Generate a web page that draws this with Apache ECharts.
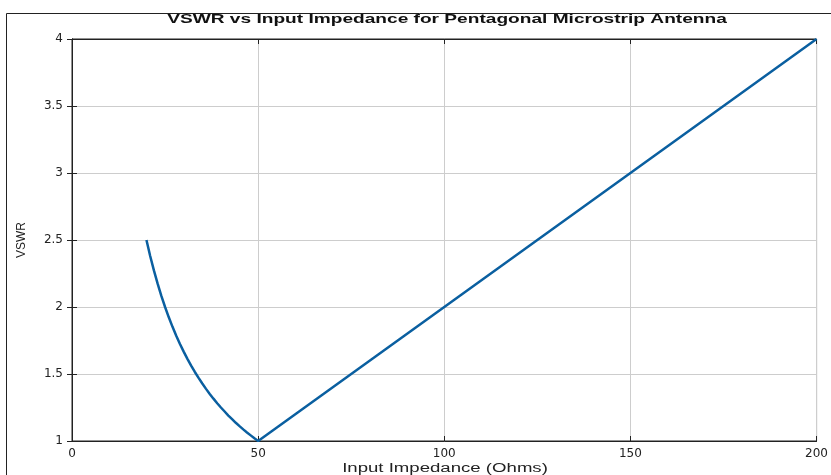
<!DOCTYPE html>
<html><head><meta charset="utf-8">
<script src="https://cdn.jsdelivr.net/npm/echarts@6/dist/echarts.min.js"></script>
<style>html,body{margin:0;padding:0;background:#fff}#c{width:831px;height:475px}</style>
</head><body><div id="c"></div>
<script>
var impedance = [20, 21, 22, 23, 24, 25, 26, 27, 28, 29, 30, 31, 32, 33, 34, 35, 36, 37, 38, 39, 40, 41, 42, 43, 44, 45, 46, 47, 48, 49, 50, 100, 150, 200];
var vswr = [2.5, 2.381, 2.273, 2.174, 2.083, 2.0, 1.923, 1.852, 1.786, 1.724, 1.667, 1.613, 1.563, 1.515, 1.471, 1.429, 1.389, 1.351, 1.316, 1.282, 1.25, 1.220, 1.190, 1.163, 1.136, 1.111, 1.087, 1.064, 1.042, 1.020, 1.0, 2.0, 3.0, 4.0];
var xTicks = [0, 50, 100, 150, 200];
var yTicks = [1, 1.5, 2, 2.5, 3, 3.5, 4];
var titleText = 'VSWR vs Input Impedance for Pentagonal Microstrip Antenna';
var xName = 'Input Impedance (Ohms)';
var yName = 'VSWR';

var pts = impedance.map(function (x, i) { return [x, vswr[i]]; });
var font = 'Liberation Sans, Arial, sans-serif';
var tickFont = 'DejaVu Sans, sans-serif';
var chart = echarts.init(document.getElementById('c'));
chart.setOption({
  animation: false,
  graphic: [
    { type: 'rect', shape: { x: 6.5, y: 13.5, width: 840, height: 480 }, style: { fill: 'none', stroke: '#222', lineWidth: 1 }, silent: true },
    { type: 'text', x: 447, y: 19.5, scaleX: 1.47, style: { text: titleText, font: 'bold 13px Liberation Sans', fill: '#111', textAlign: 'center', textVerticalAlign: 'middle' } },
    { type: 'text', x: 445, y: 469, scaleX: 1.55, style: { text: xName, font: '12px Liberation Sans', fill: '#222', textAlign: 'center', textVerticalAlign: 'middle' } }
  ],
  grid: { left: 72, right: 13, top: 39, bottom: 34, show: true, borderColor: '#222', borderWidth: 1 },
  xAxis: [{
    type: 'value', min: xTicks[0], max: xTicks[xTicks.length - 1], interval: 50,
    axisLine: { lineStyle: { color: '#222' } },
    axisTick: { inside: true, length: 5, lineStyle: { color: '#222' } },
    axisLabel: { fontFamily: tickFont, fontSize: 12, color: '#222', margin: 7 },
    splitLine: { show: true, lineStyle: { color: '#cdcdcd' } }
  }, {
    type: 'value', position: 'top', min: 0, max: 200, interval: 50,
    axisLine: { show: true, lineStyle: { color: '#222' } },
    axisTick: { inside: true, length: 5, lineStyle: { color: '#222' } },
    axisLabel: { show: false }, splitLine: { show: false }
  }],
  yAxis: [{
    type: 'value', min: 1, max: 4, interval: 0.5,
    name: yName, nameLocation: 'middle', nameGap: 44, nameRotate: 90,
    nameTextStyle: { fontFamily: font, fontSize: 12, color: '#222' },
    axisLine: { show: true, lineStyle: { color: '#222' } },
    axisTick: { show: true, inside: true, length: 5, lineStyle: { color: '#222' } },
    axisLabel: { fontFamily: tickFont, fontSize: 12, color: '#222', margin: 9,
      formatter: function (v) { return yTicks.indexOf(v) >= 0 ? String(v) : ''; } },
    splitLine: { show: true, lineStyle: { color: '#cdcdcd' } }
  }, {
    type: 'value', position: 'right', min: 1, max: 4, interval: 0.5,
    axisLine: { show: true, lineStyle: { color: '#222' } },
    axisTick: { show: true, inside: true, length: 5, lineStyle: { color: '#222' } },
    axisLabel: { show: false }, splitLine: { show: false }
  }],
  series: [{
    type: 'line', data: pts, showSymbol: false,
    lineStyle: { color: '#0a5fa0', width: 2.5 }
  }]
});
</script></body></html>
